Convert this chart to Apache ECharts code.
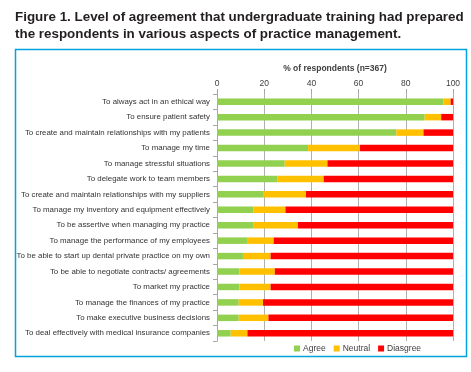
<!DOCTYPE html>
<html>
<head>
<meta charset="utf-8">
<script src="https://cdn.jsdelivr.net/npm/echarts@6/dist/echarts.min.js"></script>
<style>
  html, body { margin: 0; padding: 0; background: #fff; }
  #chart { width: 471px; height: 372px; }
</style>
</head>
<body>
<div id="chart"></div>
<script>
// categories, top to bottom
const categories = [
  'To always act in an ethical way',
  'To ensure patient safety',
  'To create and maintain relationships with my patients',
  'To manage my time',
  'To manage stressful situations',
  'To delegate work to team members',
  'To create and maintain relationships with my suppliers',
  'To manage my inventory and equipment effectively',
  'To be assertive when managing my practice',
  'To manage the performance of my employees',
  'To be able to start up dental private practice on my own',
  'To be able to negotiate contracts/ agreements',
  'To market my practice',
  'To manage the finances of my practice',
  'To make executive business decisions',
  'To deal effectively with medical insurance companies'
];
const agree    = [96, 88, 76, 38.6, 28.7, 25.7, 19.5, 15.5, 15.3, 12.7, 11, 9.5, 9.5, 9.2, 9.2, 5.8];
const neutral  = [3, 7, 11.5, 22, 18.1, 19.5, 18.2, 13.5, 19, 11.3, 11.7, 15, 13.2, 10.3, 12.6, 7.1];
const disagree = [1, 5, 12.5, 39.4, 53.2, 54.8, 62.3, 71, 65.7, 76, 77.3, 75.5, 77.3, 80.5, 78.2, 87.1];
const xTicks = [0, 100, 20];

const font = 'Liberation Sans';
const chart = echarts.init(document.getElementById('chart'));

function bar(name, data, color) {
  return {
    name,
    type: 'bar',
    stack: 'total',
    data,
    barCategoryGap: '58%',
    itemStyle: { color },
    silent: true
  };
}

const options = {
  animation: false,
  textStyle: { fontFamily: font },
  title: {
    text: 'Figure 1. Level of agreement that undergraduate training had prepared\nthe respondents in various aspects of practice management.',
    left: 10,
    top: 4,
    textStyle: { fontSize: 13.4, fontWeight: 'bold', color: '#231f20', lineHeight: 17, fontFamily: font }
  },
  graphic: [{
    type: 'rect',
    shape: { x: 15.5, y: 49.5, width: 451, height: 307 },
    style: { fill: 'none', stroke: '#00a3e0', lineWidth: 1.5 },
    silent: true
  }],
  grid: { left: 217, right: 18, top: 94, bottom: 31 },
  legend: {
    left: 289,
    top: 339,
    itemWidth: 6,
    itemHeight: 6,
    itemGap: 8,
    icon: 'rect',
    textStyle: { fontSize: 8.5, color: '#404040', padding: [0, 0, 0, -2] },
    data: ['Agree', 'Neutral', 'Diasgree']
  },
  xAxis: {
    type: 'value',
    position: 'top',
    min: xTicks[0],
    max: xTicks[1],
    interval: xTicks[2],
    name: '% of respondents (n=367)',
    nameLocation: 'middle',
    nameGap: 21,
    nameTextStyle: { fontSize: 8.5, fontWeight: 'bold', color: '#404040' },
    axisLine: { show: false },
    axisTick: { show: true, length: 5, lineStyle: { color: '#a6a6a6' } },
    axisLabel: { fontSize: 8.5, color: '#404040', margin: 6 },
    splitLine: { lineStyle: { color: '#b0b0b0', width: 1 } }
  },
  yAxis: {
    type: 'category',
    inverse: true,
    data: categories,
    axisLine: { lineStyle: { color: '#a6a6a6' } },
    axisTick: { show: true, length: 4, lineStyle: { color: '#a6a6a6' } },
    axisLabel: { fontSize: 7.9, color: '#333', margin: 7 }
  },
  series: [
    bar('Agree', agree, '#92d050'),
    bar('Neutral', neutral, '#ffc000'),
    bar('Diasgree', disagree, '#ff0000')
  ]
};
chart.setOption(options);
</script>
</body>
</html>
